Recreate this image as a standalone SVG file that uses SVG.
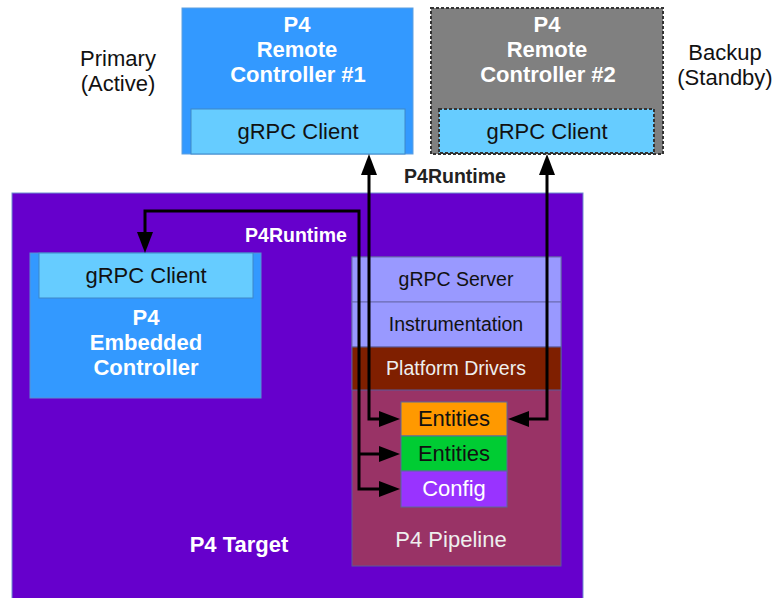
<svg xmlns="http://www.w3.org/2000/svg" width="772" height="598" viewBox="0 0 772 598">
<style>
text{font-family:"Liberation Sans",Arial,sans-serif;text-anchor:middle}
.t{font-size:22px}
.b{font-weight:bold}
.w{fill:#ffffff}
.k{fill:#111111}
.s{font-size:19.5px}
.lbl{font-size:19.5px;font-weight:bold}
.conn{fill:none;stroke:#000;stroke-width:3}
</style>
<defs>
<marker id="ah" markerUnits="userSpaceOnUse" markerWidth="22" markerHeight="18" refX="0" refY="8" orient="auto-start-reverse" overflow="visible">
<path d="M0,0 L21,8 L0,16 z" fill="#000"/>
</marker>
</defs>
<rect width="772" height="598" fill="#ffffff"/>
<text class="t k" x="118" y="66">Primary</text>
<text class="t k" x="118" y="91">(Active)</text>
<text class="t k" x="725" y="60">Backup</text>
<text class="t k" x="725" y="85">(Standby)</text>
<text class="lbl" x="455" y="183" fill="#222222">P4Runtime</text>
<g id="remote1">
<rect x="182" y="8" width="231" height="146" fill="#3399ff" stroke="#5e9fe0" stroke-width="1"/>
<text class="t b w" x="297" y="32">P4</text>
<text class="t b w" x="297" y="57">Remote</text>
<text class="t b w" x="298" y="82">Controller #1</text>
<rect x="191" y="109" width="214" height="45" fill="#66ccff" stroke="#3f88c8" stroke-width="1"/>
<text class="t k" x="298" y="139">gRPC Client</text>
</g>
<g id="remote2">
<rect x="431" y="8" width="232" height="146" fill="#808080" stroke="#333333" stroke-width="2" stroke-dasharray="3,2"/>
<text class="t b w" x="547" y="32">P4</text>
<text class="t b w" x="547" y="57">Remote</text>
<text class="t b w" x="548" y="82">Controller #2</text>
<rect x="439" y="109" width="215" height="44" fill="#66ccff" stroke="#333333" stroke-width="2" stroke-dasharray="3,2"/>
<text class="t k" x="547" y="139">gRPC Client</text>
</g>
<g id="target">
<rect x="12" y="193" width="571" height="420" fill="#6600cc" stroke="#6f8fd0" stroke-width="1"/>
<text class="t b w" x="239" y="552">P4 Target</text>
<text class="lbl w" x="296" y="242">P4Runtime</text>
</g>
<g id="embedded">
<rect x="30" y="253" width="231" height="145" fill="#3399ff" stroke="#5b8fd0" stroke-width="1"/>
<rect x="39" y="253" width="214" height="45" fill="#66ccff" stroke="#3f88c8" stroke-width="1"/>
<text class="t k" x="146" y="283">gRPC Client</text>
<text class="t b w" x="146" y="325">P4</text>
<text class="t b w" x="146" y="350">Embedded</text>
<text class="t b w" x="146" y="375">Controller</text>
</g>
<g id="pipeline-stack">
<rect x="352" y="257" width="209" height="309" fill="#993366" stroke="#5a5a9a" stroke-width="1"/>
<rect x="352" y="257" width="209" height="45" fill="#9999ff" stroke="#6a6ab0" stroke-width="1"/>
<rect x="352" y="302" width="209" height="45" fill="#9999ff" stroke="#6a6ab0" stroke-width="1"/>
<rect x="352" y="347" width="209" height="43" fill="#7f1f00" stroke="#5a5a9a" stroke-width="1"/>
<text class="s k" x="456" y="286">gRPC Server</text>
<text class="s k" x="456" y="331">Instrumentation</text>
<text class="s" x="456" y="375" fill="#eeeeee">Platform Drivers</text>
<text class="t" x="451" y="547" fill="#eeeeee">P4 Pipeline</text>
</g>
<g id="entities1">
<rect x="401" y="402" width="106" height="34" fill="#ff9900" stroke="#5a6a9a" stroke-width="1"/>
<text class="t k" x="454" y="426">Entities</text>
</g>
<g id="entities2">
<rect x="401" y="436" width="106" height="35" fill="#00cc33" stroke="#5a6a9a" stroke-width="1"/>
<text class="t k" x="454" y="461">Entities</text>
</g>
<g id="config">
<rect x="401" y="471" width="106" height="36" fill="#9933ff" stroke="#5a6a9a" stroke-width="1"/>
<text class="t w" x="454" y="496">Config</text>
</g>
<g id="connectors">
<path class="conn" d="M369 175 L369 419 L379 419" marker-start="url(#ah)" marker-end="url(#ah)"/>
<path class="conn" d="M547 175 L547 419 L529 419" marker-start="url(#ah)" marker-end="url(#ah)"/>
<path class="conn" d="M145 232 L145 211 L359 211 L359 489 L379 489" marker-start="url(#ah)" marker-end="url(#ah)"/>
<path class="conn" d="M359 454 L379 454" marker-end="url(#ah)"/>
</g>
</svg>
